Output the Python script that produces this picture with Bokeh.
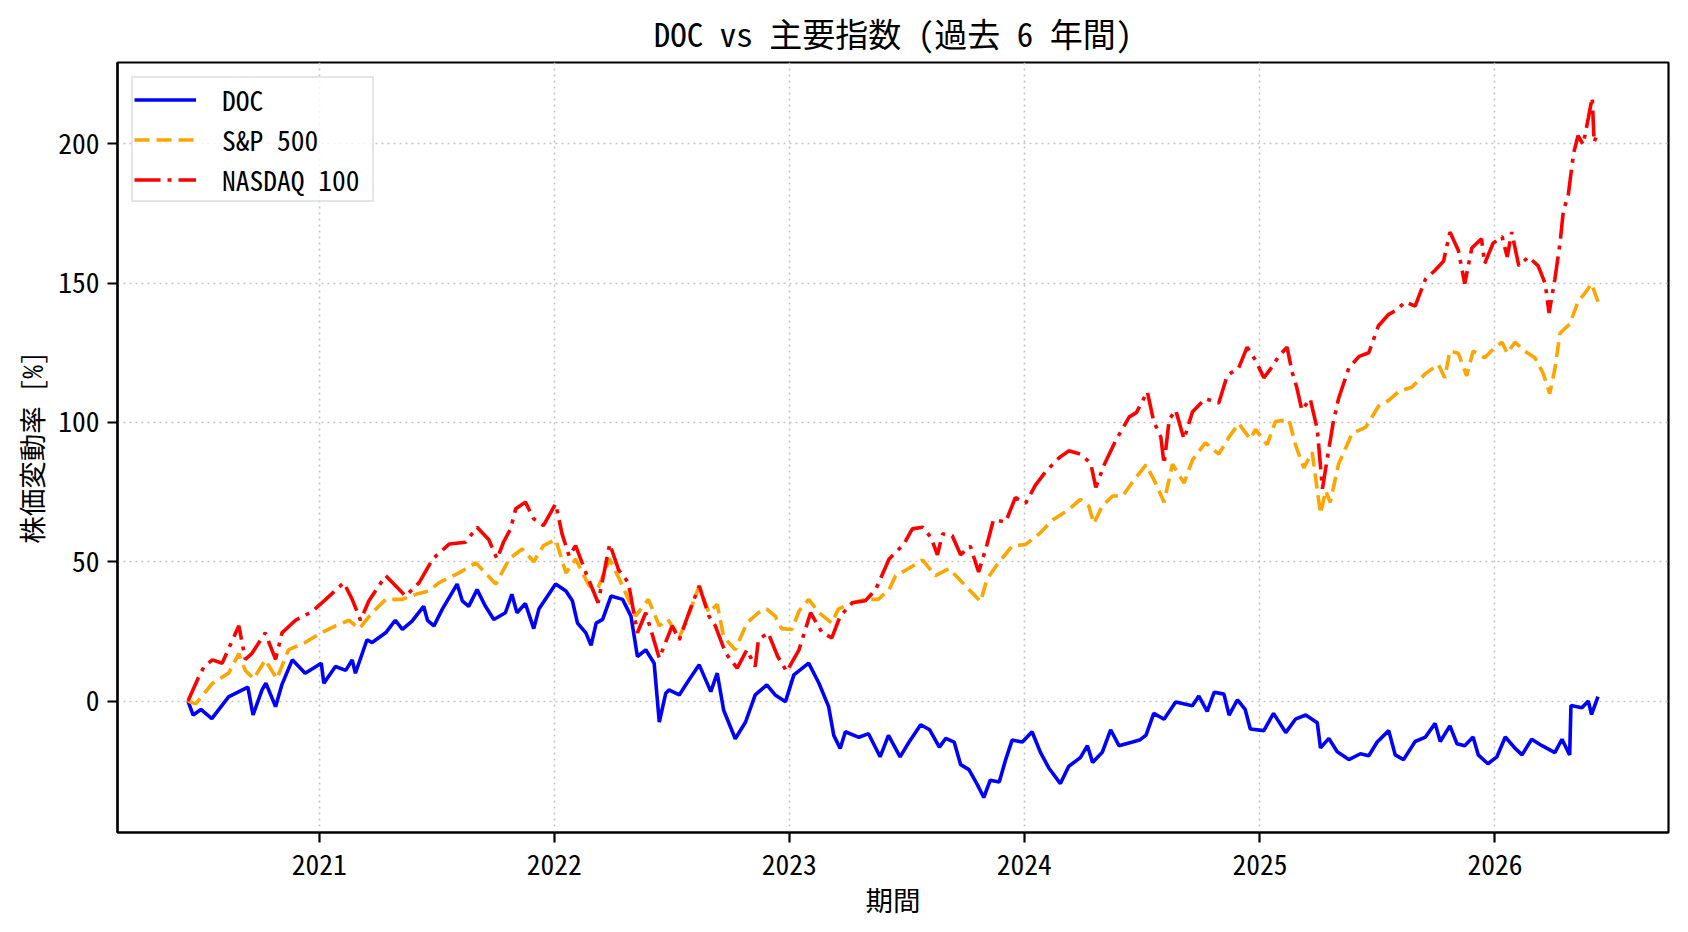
import pandas as pd
from bokeh.plotting import figure
from bokeh.models import FixedTicker, Range1d
from bokeh.embed import file_html
from bokeh.resources import INLINE

FONT = "Noto Sans Mono CJK JP, Noto Sans CJK JP"

doc_dates = ["2020-06-11","2020-06-19","2020-07-01","2020-07-18","2020-08-13","2020-09-12","2020-09-20","2020-10-04","2020-10-10","2020-10-25",
    "2020-11-04","2020-11-20","2020-12-10","2021-01-04","2021-01-08","2021-01-26","2021-02-11","2021-02-21","2021-02-26","2021-03-16",
    "2021-03-24","2021-04-14","2021-04-29","2021-05-10","2021-05-25","2021-06-12","2021-06-18","2021-06-28","2021-07-11","2021-08-03",
    "2021-08-11","2021-08-21","2021-09-03","2021-09-16","2021-09-29","2021-10-17","2021-10-27","2021-11-04","2021-11-17","2021-11-30",
    "2021-12-08","2022-01-03","2022-01-19","2022-01-29","2022-02-06","2022-02-19","2022-02-27","2022-03-07","2022-03-17","2022-03-30",
    "2022-04-17","2022-04-30","2022-05-10","2022-05-23","2022-06-05","2022-06-13","2022-06-23","2022-06-28","2022-07-14","2022-07-29",
    "2022-08-14","2022-09-01","2022-09-11","2022-09-21","2022-10-09","2022-10-25","2022-11-09","2022-11-27","2022-12-10","2022-12-26",
    "2023-01-08","2023-01-31","2023-02-16","2023-03-03","2023-03-11","2023-03-21","2023-03-29","2023-04-19","2023-05-04","2023-05-22",
    "2023-06-04","2023-06-22","2023-07-06","2023-07-24","2023-08-07","2023-08-22","2023-09-01","2023-09-14","2023-09-24","2023-10-07",
    "2023-10-20","2023-10-30","2023-11-09","2023-11-23","2023-12-03","2023-12-13","2023-12-29","2024-01-13","2024-01-26","2024-02-08",
    "2024-02-26","2024-03-10","2024-03-28","2024-04-08","2024-04-16","2024-05-01","2024-05-14","2024-05-27","2024-06-17","2024-06-28",
    "2024-07-08","2024-07-20","2024-08-05","2024-08-23","2024-09-18","2024-09-28","2024-10-11","2024-10-22","2024-11-06","2024-11-14",
    "2024-11-27","2024-12-09","2024-12-17","2025-01-07","2025-01-22","2025-02-10","2025-02-25","2025-03-13","2025-03-31","2025-04-05",
    "2025-04-18","2025-05-01","2025-05-19","2025-06-06","2025-06-19","2025-07-02","2025-07-20","2025-07-30","2025-08-12","2025-08-30",
    "2025-09-15","2025-09-30","2025-10-08","2025-10-23","2025-11-03","2025-11-15","2025-11-28","2025-12-06","2025-12-21","2026-01-04",
    "2026-01-17","2026-02-01","2026-02-12","2026-02-27","2026-03-15","2026-04-04","2026-04-15","2026-04-27","2026-04-29","2026-05-16",
    "2026-05-26","2026-05-31","2026-06-10"]
doc_values = [0,-5,-3,-6.3,1.5,5,-5,4,6.4,-2,
    6,14.8,10,13.6,6.4,12.4,11,14.8,10,22,
    21,24.5,29,25.7,28.7,34,29,27,33,42,
    36,34,40,34,29.3,31.7,38.3,31.7,35,26,
    33,42,39.5,36,28,24.5,20,28,29.3,37.7,
    36.5,30.5,16,18.4,13.6,-7.5,2.8,4,2.2,7.6,
    13,3.4,10,-3.3,-13.5,-7.5,2.2,5.8,2.2,-0.2,
    9.4,13.6,6.4,-2,-12.3,-17,-11,-13,-11.7,-20,
    -12.3,-20,-14.7,-8.5,-10.3,-16.5,-13.4,-14.7,-22.8,-24.6,
    -30,-34.6,-28.4,-29,-21,-14,-14.7,-11,-18.4,-24,
    -29.6,-23.4,-20.3,-16,-22,-18.4,-10.3,-16,-14.7,-14,
    -12.2,-4.4,-6.5,-0.3,-1.7,1.8,-3.7,3.2,2.5,-5,
    0.4,-3,-10,-10.6,-4.4,-11.3,-6.5,-5,-7.8,-16.8,
    -13.4,-18.2,-21,-18.9,-19.6,-14.7,-10.6,-19.3,-21,-14.5,
    -12.9,-8,-14.5,-8.9,-15.3,-16,-12.9,-19.3,-22.5,-20,
    -12.9,-16.9,-19.3,-13.7,-16,-18.5,-13.7,-19.3,-1.6,-2.4,
    0,-4.8,1.6]

sp_dates = ["2020-06-11","2020-06-23","2020-07-19","2020-08-13","2020-08-29","2020-09-08","2020-09-21","2020-10-09","2020-10-27","2020-11-14",
    "2020-12-10","2021-01-04","2021-01-26","2021-02-16","2021-03-04","2021-03-24","2021-04-14","2021-05-10","2021-05-31","2021-06-20",
    "2021-07-06","2021-08-06","2021-09-01","2021-10-02","2021-10-23","2021-11-12","2021-11-30","2021-12-15","2022-01-03","2022-01-19",
    "2022-02-03","2022-02-24","2022-03-10","2022-03-28","2022-04-17","2022-05-07","2022-05-27","2022-06-13","2022-06-26","2022-07-14",
    "2022-07-24","2022-08-14","2022-08-29","2022-09-11","2022-09-21","2022-10-09","2022-10-27","2022-11-14","2022-11-27","2022-12-10",
    "2022-12-20","2023-01-05","2023-01-16","2023-01-31","2023-02-16","2023-03-08","2023-03-18","2023-04-09","2023-04-29","2023-05-19",
    "2023-06-05","2023-06-15","2023-07-01","2023-07-27","2023-08-16","2023-09-06","2023-09-27","2023-10-07","2023-10-25","2023-11-04",
    "2023-11-23","2023-12-13","2024-01-03","2024-01-24","2024-02-14","2024-03-10","2024-03-28","2024-04-10","2024-04-18","2024-05-01",
    "2024-05-17","2024-06-02","2024-06-17","2024-07-08","2024-07-23","2024-08-05","2024-08-18","2024-09-05","2024-09-18","2024-10-08",
    "2024-10-29","2024-11-14","2024-11-29","2024-12-17","2024-12-25","2025-01-12","2025-01-25","2025-02-15","2025-02-25","2025-03-10",
    "2025-03-23","2025-04-05","2025-04-13","2025-04-20","2025-05-03","2025-05-24","2025-06-14","2025-07-04","2025-07-20","2025-08-04",
    "2025-08-25","2025-09-15","2025-10-05","2025-10-15","2025-10-23","2025-11-05","2025-11-18","2025-11-28","2025-12-16","2026-01-02",
    "2026-01-12","2026-01-20","2026-02-01","2026-02-16","2026-03-04","2026-03-17","2026-03-27","2026-04-04","2026-04-12","2026-04-27",
    "2026-05-10","2026-05-21","2026-05-31","2026-06-10"]
sp_values = [0,-1,6.4,10,17,11,8,14.8,8,18.4,
    21,24.5,27,29,26,31.7,36.5,36.5,38.3,39.5,
    42.5,46,49.6,42,51,54.6,50,55.8,58,46,
    51,41.3,40.7,51,41.3,30.5,36.5,27,29.3,23,
    28,41.3,31.7,34.7,23,18.4,28,31.7,33,30.5,
    26,25.7,32.3,36.5,31.7,28,33,35.3,36.5,36.5,
    40,45,47,50.6,45,47.5,42.5,40,35.7,43.8,
    50,55.6,56.2,60,65,68.7,72.4,70,63.7,70,
    73.6,73.6,78.6,84.8,78.2,71.3,85,78.2,86.5,92.7,
    88.6,94.8,99.6,94,97.5,92,100.3,101,92,83.7,
    89.3,67.2,75.5,71.3,85,96,98.2,105.8,107.9,111,
    112.7,117.5,120.8,116,125.6,124.8,116.7,125.6,123.2,127.2,
    128.8,124.8,128.8,125.6,123.2,117.5,110.3,119.2,132,135.3,
    143.3,146.5,149.8,143.3]

ndx_dates = ["2020-06-11","2020-06-28","2020-07-06","2020-07-19","2020-08-03","2020-08-29","2020-09-08","2020-09-18","2020-10-09","2020-10-25",
    "2020-11-04","2020-11-25","2020-12-20","2021-01-11","2021-02-08","2021-02-21","2021-03-06","2021-03-19","2021-04-14","2021-05-15",
    "2021-06-05","2021-06-20","2021-06-26","2021-07-22","2021-08-16","2021-09-03","2021-09-21","2021-10-04","2021-10-14","2021-10-25",
    "2021-11-02","2021-11-17","2021-11-30","2021-12-15","2022-01-03","2022-01-13","2022-01-24","2022-02-03","2022-02-19","2022-03-10",
    "2022-03-28","2022-04-11","2022-04-26","2022-05-10","2022-05-23","2022-06-13","2022-07-03","2022-07-14","2022-07-29","2022-08-14",
    "2022-08-29","2022-09-08","2022-09-24","2022-10-12","2022-10-27","2022-11-09","2022-11-14","2022-11-29","2022-12-14","2022-12-28",
    "2023-01-16","2023-02-03","2023-02-21","2023-03-08","2023-03-21","2023-04-09","2023-04-29","2023-05-15","2023-06-05","2023-06-28",
    "2023-07-11","2023-07-27","2023-08-09","2023-08-19","2023-08-27","2023-09-11","2023-09-24","2023-10-09","2023-10-22","2023-11-04",
    "2023-11-14","2023-12-03","2023-12-18","2024-01-03","2024-01-18","2024-02-03","2024-02-24","2024-03-10","2024-03-28","2024-04-13",
    "2024-04-21","2024-05-04","2024-05-22","2024-06-12","2024-06-23","2024-07-10","2024-07-20","2024-07-31","2024-08-05","2024-08-13",
    "2024-08-23","2024-09-05","2024-09-18","2024-10-08","2024-10-29","2024-11-11","2024-11-29","2024-12-12","2024-12-25","2025-01-07",
    "2025-01-20","2025-01-30","2025-02-12","2025-02-20","2025-02-27","2025-03-07","2025-03-20","2025-03-31","2025-04-08","2025-04-18",
    "2025-04-25","2025-05-03","2025-05-19","2025-06-04","2025-06-19","2025-07-04","2025-07-20","2025-07-30","2025-08-15","2025-08-30",
    "2025-09-15","2025-09-30","2025-10-13","2025-10-23","2025-11-05","2025-11-15","2025-11-26","2025-12-11","2025-12-16","2025-12-29",
    "2026-01-12","2026-01-20","2026-01-27","2026-02-07","2026-02-22","2026-03-09","2026-03-20","2026-03-26","2026-04-04","2026-04-12",
    "2026-04-17","2026-04-25","2026-05-03","2026-05-10","2026-05-18","2026-05-26","2026-06-01","2026-06-04","2026-06-10"]
ndx_values = [0,8.8,12.4,14.8,13.6,27,15,17,24.5,15,
    24.5,29,32,36.5,42.5,36.5,29,36,45,37.7,
    42.5,48.5,51,56.4,57,62.4,58,51,57,61.8,
    69,71.4,65.4,63,70.8,60,52,55.8,46,35.3,
    56.4,47,42.5,24.5,31.7,15.4,27,22,31.7,41.3,
    30.5,27,17.2,11.8,18.4,12.4,22,24.5,16,10.6,
    18.4,31.7,24.5,22.7,30.5,35.3,36,40,51,56.4,
    61.8,62.4,58.7,52.5,60,59.3,52.5,55.6,46.3,56.2,
    65,64.3,73,71,77.4,82.3,87.3,89.8,88.6,85.4,
    76.7,84.8,93.5,102,103.5,111,100.3,94.8,85,101,
    104.4,94,103.7,108.5,107,116.8,119.6,127,122.3,116,
    120,123.7,127,118,112.7,104.4,108.5,97.5,76.2,90.6,
    100.3,108.5,119.6,123.7,125,134.7,138.8,140,143.3,141.7,
    151.4,154.6,157.8,168.3,161.8,149.8,162.6,165.9,157,164.3,
    166.7,159.4,168.3,156.2,159.4,156.2,149.8,139.3,151.4,164.3,
    175.5,182,196.5,202.9,199.7,209.3,216.6,200.5,204.5]

year_ticks = ["2021-01-01","2022-01-01","2023-01-01","2024-01-01","2025-01-01","2026-01-01"]
year_labels = ["2021","2022","2023","2024","2025","2026"]
y_ticks = [0, 50, 100, 150, 200]

series = [
    ("DOC", doc_dates, doc_values, "#0000ff", None),
    ("S&P 500", sp_dates, sp_values, "#ffa500", "15 7"),
    ("NASDAQ 100", ndx_dates, ndx_values, "#ff0000", "26 7 4 7"),
]

all_x = pd.to_datetime(doc_dates + sp_dates + ndx_dates)
xmin, xmax = all_x.min(), all_x.max()
xpad = (xmax - xmin) * 0.05
all_y = doc_values + sp_values + ndx_values
ymin, ymax = min(all_y), max(all_y)
ypad = (ymax - ymin) * 0.05

p = figure(width=1688, height=932, x_axis_type="datetime",
           output_backend="svg", toolbar_location=None,
           x_range=Range1d(xmin - xpad, xmax + xpad),
           y_range=Range1d(ymin - ypad, ymax + ypad),
           min_border_left=117, min_border_right=20,
           min_border_top=60, min_border_bottom=100)

for name, d, v, color, dash in series:
    kw = dict(line_color=color, line_width=3.6, legend_label=name)
    if dash:
        kw["line_dash"] = dash
    p.line(pd.to_datetime(d), v, **kw)

# title
p.title.text = "DOC vs 主要指数 (過去 6 年間)"
p.title.align = "center"
p.title.text_font = FONT
p.title.text_font_size = "33px"
p.title.text_font_style = "normal"
p.title.text_color = "black"
p.title.standoff = 12

# axes
tick_ms = [pd.Timestamp(t).value / 1e6 for t in year_ticks]
p.xaxis.ticker = FixedTicker(ticks=tick_ms)
p.xaxis.major_label_overrides = {t: l for t, l in zip(tick_ms, year_labels)}
p.yaxis.ticker = FixedTicker(ticks=y_ticks)
p.xaxis.axis_label = "期間"
p.yaxis.axis_label = "株価変動率 [%]"
for ax in (p.xaxis, p.yaxis):
    ax.axis_label_text_font = FONT
    ax.axis_label_text_font_size = "27.5px"
    ax.axis_label_text_font_style = "normal"
    ax.axis_label_text_color = "black"
    ax.major_label_text_font = FONT
    ax.major_label_text_font_size = "27.5px"
    ax.major_label_text_color = "black"
    ax.axis_line_color = "black"
    ax.axis_line_width = 2.2
    ax.major_tick_line_color = "black"
    ax.major_tick_line_width = 2.2
    ax.major_tick_out = 10
    ax.major_tick_in = 0
    ax.minor_tick_line_color = None
p.xaxis.major_label_standoff = 12
p.yaxis.major_label_standoff = 8
p.xaxis.axis_label_standoff = 1
p.yaxis.axis_label_standoff = 4

p.outline_line_color = "black"
p.outline_line_width = 2.2
p.background_fill_color = "white"
p.border_fill_color = "white"

for g in (p.xgrid, p.ygrid):
    g.grid_line_color = "#c4c4c4"
    g.grid_line_dash = "2 4"
    g.grid_line_width = 1.6

# legend
lg = p.legend[0]
lg.location = "top_left"
lg.margin = 14
lg.padding = 1
lg.spacing = 0
lg.label_height = 23
lg.glyph_height = 23
lg.glyph_width = 62
lg.label_width = 149
lg.label_standoff = 26
lg.label_text_font = FONT
lg.label_text_font_size = "27.5px"
lg.label_text_color = "black"
lg.border_line_color = "#cccccc"
lg.border_line_width = 2
lg.background_fill_alpha = 0.8

open("out.html", "w").write(file_html(p, INLINE))
